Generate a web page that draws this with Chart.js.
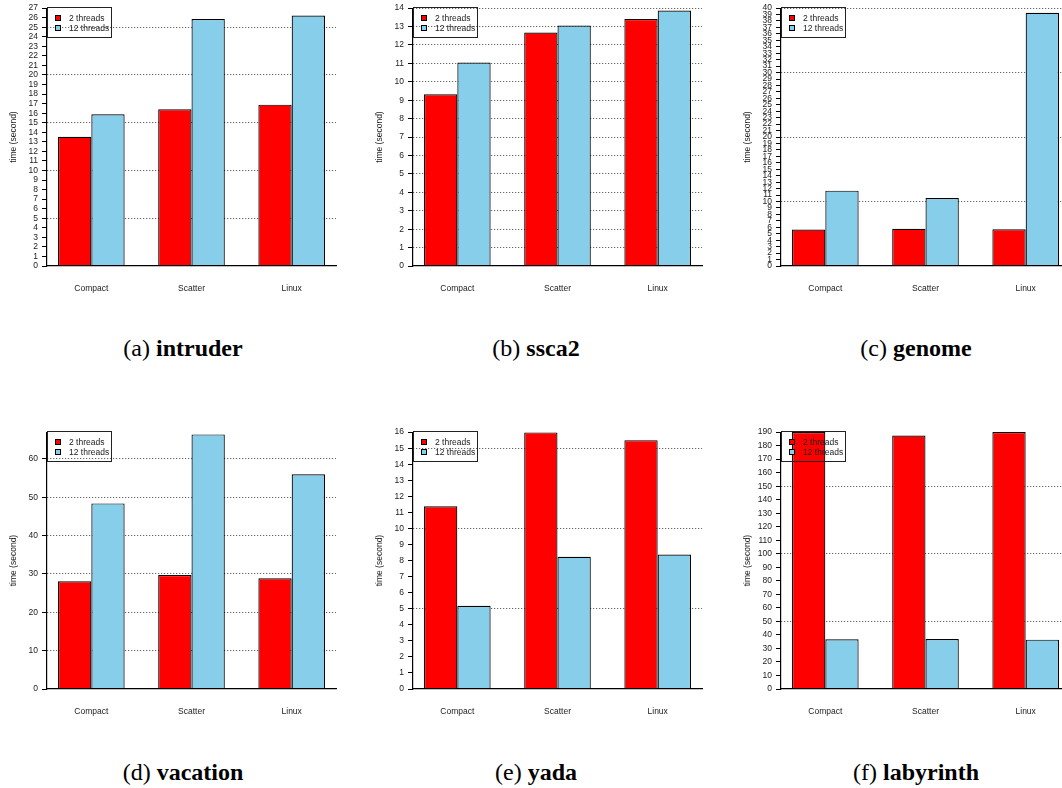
<!DOCTYPE html>
<html><head><meta charset="utf-8">
<script src="https://cdn.jsdelivr.net/npm/chart.js@4/dist/chart.umd.min.js"></script>
<style>
html,body{margin:0;padding:0;background:#fff;width:1062px;height:788px;overflow:hidden;position:relative}
canvas{position:absolute}
.cap{position:absolute;font-family:'Liberation Serif','Times New Roman',serif;font-size:24px;color:#000;white-space:nowrap;transform:translate(-50%,-50%);line-height:1}
</style></head><body>
<script>
// ---- data ----
const categories = ['Compact', 'Scatter', 'Linux'];
const seriesLabels = ['2 threads', '12 threads'];
const benchmarks = ['intruder', 'ssca2', 'genome', 'vacation', 'yada', 'labyrinth'];
const captionLetters = ['(a)', '(b)', '(c)', '(d)', '(e)', '(f)'];
const yTitle = 'time (second)';

const intruder2 = [13.52, 16.40, 16.89];
const intruder12 = [15.88, 25.85, 26.23];
const ssca2_2 = [9.32, 12.67, 13.41];
const ssca2_12 = [11.05, 13.05, 13.87];
const genome2 = [5.66, 5.77, 5.71];
const genome12 = [11.69, 10.55, 39.28];
const vacation2 = [28.1, 29.7, 28.9];
const vacation12 = [48.4, 66.4, 56.0];
const yada2 = [11.38, 15.98, 15.5];
const yada12 = [5.18, 8.24, 8.38];
const labyrinth2 = [190, 187.5, 190];
const labyrinth12 = [36.8, 37.0, 36.5];

const yMax = [27, 14, 40, 67, 16, 190];
const yTickStep = [1, 1, 1, 10, 1, 10];
const yGridStep = [5, 1, 10, 10, 5, 50];

const series2 = [intruder2, ssca2_2, genome2, vacation2, yada2, labyrinth2];
const series12 = [intruder12, ssca2_12, genome12, vacation12, yada12, labyrinth12];

// ---- layout / style ----
const axisX = [47, 413, 781];
const topY = [7, 431];
const plotH = [259, 258];
const plotW = 289;
const YW = 46, PT = 8, XH = 30, PR = 12;
const capX = [183, 536, 916];
const capY = [348, 772];
const FONT = {family: "'Liberation Sans', Arial, sans-serif", size: 8.5};
const TXT = '#222';

Chart.defaults.font.family = FONT.family;

const boxLegend = {
  id: 'boxLegend',
  afterDraw(chart) {
    const {ctx, chartArea: a} = chart;
    const x0 = Math.round(a.left), y0 = Math.round(a.top) - 1;
    ctx.save();
    ctx.strokeStyle = '#222';
    ctx.lineWidth = 1;
    ctx.strokeRect(x0 + 0.5, y0 + 0.5, 64, 30);
    ctx.font = FONT.size + 'px ' + FONT.family;
    ctx.textBaseline = 'middle';
    chart.data.datasets.forEach((ds, k) => {
      const cy = y0 + 11 + k * 10;
      ctx.fillStyle = ds.backgroundColor;
      ctx.fillRect(x0 + 8, cy - 3, 6, 6);
      ctx.strokeStyle = '#000';
      ctx.strokeRect(x0 + 8.5, cy - 2.5, 5, 5);
      ctx.fillStyle = TXT;
      ctx.fillText(ds.label, x0 + 22, cy + 0.5);
    });
    ctx.restore();
  }
};

for (let i = 0; i < 6; i++) {
  const col = i % 3, row = Math.floor(i / 3);
  const cv = document.createElement('canvas');
  const w = YW + plotW + PR, h = PT + plotH[row] + XH;
  cv.width = w; cv.height = h;
  cv.style.left = (axisX[col] - YW) + 'px';
  cv.style.top = (topY[row] - PT) + 'px';
  cv.style.width = w + 'px'; cv.style.height = h + 'px';
  document.body.appendChild(cv);

  const cap = document.createElement('div');
  cap.className = 'cap';
  cap.style.left = capX[col] + 'px';
  cap.style.top = capY[row] + 'px';
  cap.innerHTML = captionLetters[i] + ' <b>' + benchmarks[i] + '</b>';
  document.body.appendChild(cap);

  const mk = arr => arr.map((v, k) => ({x: k, y: v}));
  const gStep = yGridStep[i], tStep = yTickStep[i], ymax = yMax[i];

  new Chart(cv, {
    type: 'bar',
    data: {
      datasets: [
        {label: seriesLabels[0], data: mk(series2[i]), backgroundColor: '#ff0000', borderColor: '#000', borderWidth: 1.2},
        {label: seriesLabels[1], data: mk(series12[i]), backgroundColor: '#87ceeb', borderColor: '#000', borderWidth: 1.2}
      ]
    },
    options: {
      responsive: false,
      animation: false,
      devicePixelRatio: 1,
      events: [],
      layout: {padding: {top: PT, right: PR, left: 0, bottom: 0}},
      datasets: {bar: {categoryPercentage: 0.665, barPercentage: 1.0}},
      plugins: {legend: {display: false}, tooltip: {enabled: false}},
      scales: {
        x: {
          type: 'linear', min: -0.4425, max: 2.4425, offset: false,
          afterBuildTicks: s => { s.ticks = categories.map((c, k) => ({value: k})); },
          afterFit: s => { s.height = XH; },
          ticks: {callback: v => categories[v], font: FONT, color: TXT, padding: 10, autoSkip: false, maxRotation: 0},
          grid: {display: false, offset: false},
          border: {display: true, color: '#000', width: 1.2, z: 1}
        },
        y: {
          type: 'linear', min: 0, max: ymax,
          afterBuildTicks: s => {
            const t = [];
            for (let v = 0; v <= ymax + 1e-9; v += tStep) t.push({value: v});
            s.ticks = t;
          },
          afterFit: s => { s.width = YW; },
          ticks: {autoSkip: false, font: FONT, color: TXT, padding: 4},
          grid: {
            color: c => (c.tick && c.tick.value !== 0 && Math.abs(c.tick.value % gStep) < 1e-9) ? '#444' : 'rgba(0,0,0,0)',
            tickColor: '#000', tickLength: 5, lineWidth: 1, drawTicks: true
          },
          border: {display: true, color: '#000', width: 1.2, dash: [1, 2], z: 1},
          title: {display: true, text: yTitle, font: FONT, color: TXT, padding: {top: 7.4, bottom: 0}}
        }
      }
    },
    plugins: [boxLegend]
  });
}
</script>
</body></html>
